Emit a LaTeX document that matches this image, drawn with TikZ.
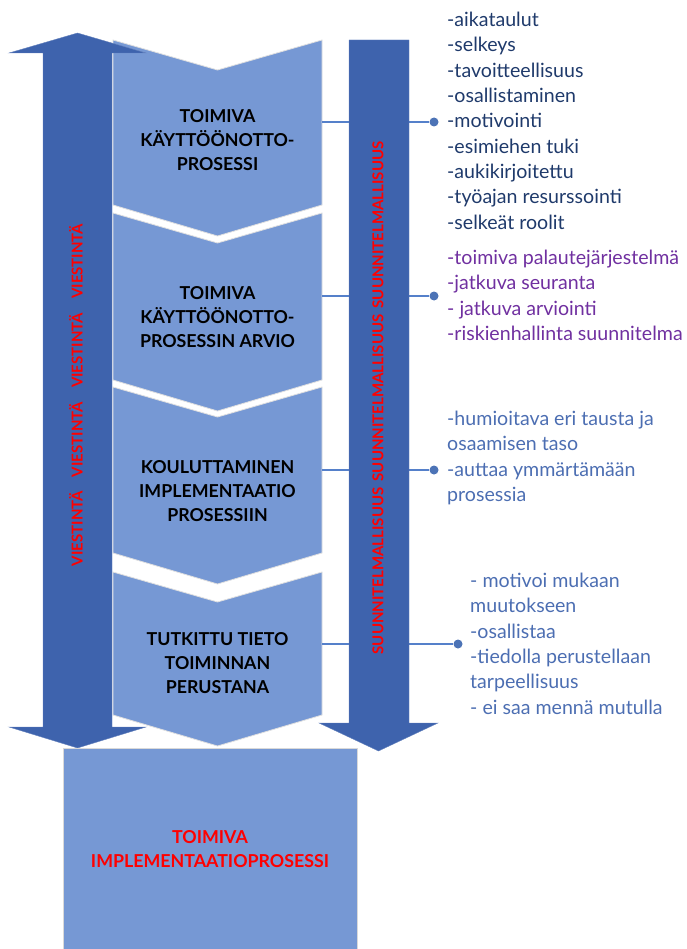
\documentclass[tikz,border=0pt]{standalone}
\usepackage{fontspec}
\setmainfont{Lato}
\usepackage{xcolor}
\definecolor{arrowblue}{HTML}{3E63AD}
\definecolor{chevblue}{HTML}{7698D4}
\definecolor{linkblue}{HTML}{5580CA}
\definecolor{navy}{HTML}{1F3A6B}
\definecolor{violet}{HTML}{7030A0}
\definecolor{softblue}{HTML}{4C6EB2}
\tikzset{
  chev/.style={fill=chevblue, draw=black!12, line width=0.8pt},
  bigarrow/.style={fill=arrowblue, draw=arrowblue!80!white, line width=0.4pt},
  head/.style={font=\fontsize{17.8}{24.2}\selectfont\bfseries, align=center, text=black},
  vtext/.style={font=\fontsize{15}{17}\selectfont\bfseries, text=red, rotate=90},
  items/.style={font=\fontsize{19.6}{25.3}\selectfont, align=left, anchor=north west, inner sep=0pt},
  link/.style={draw=linkblue, line width=1.3pt},
  dot/.style={circle, fill=linkblue!90!black, inner sep=0pt, minimum size=9pt}
}
\newcommand{\chevpath}[2]{(113,-#1) -- (217.5,-#1-30) -- (322,-#1) -- (322,-#2) -- (217.5,-#2-31) -- (113,-#2) -- cycle}
\begin{document}
\begin{tikzpicture}[x=1pt,y=1pt]
\useasboundingbox (0,0) rectangle (687,-949);
% chevrons
\draw[chev] \chevpath{40}{205};
\draw[chev] \chevpath{213}{380};
\draw[chev] \chevpath{387}{553};
\draw[chev] \chevpath{572}{715};
\node[head] (c1) at (217.5,-140) {TOIMIVA\\KÄYTTÖÖNOTTO-\\PROSESSI};
\node[head] (c2) at (217.5,-317) {TOIMIVA\\KÄYTTÖÖNOTTO-\\PROSESSIN ARVIO};
\node[head] (c3) at (217.5,-491) {KOULUTTAMINEN\\IMPLEMENTAATIO\\PROSESSIIN};
\node[head] (c4) at (217.5,-663) {TUTKITTU TIETO\\TOIMINNAN\\PERUSTANA};
% connectors
\coordinate (cr) at (322,0);
\node[dot] (d1) at (434,-122) {};
\node[dot] (d2) at (434,-296) {};
\node[dot] (d3) at (434,-470) {};
\node[dot] (d4) at (458,-644) {};
\draw[link] (d1 -| cr) -- (d1);
\draw[link] (d2 -| cr) -- (d2);
\draw[link] (d3 -| cr) -- (d3);
\draw[link] (d4 -| cr) -- (d4);
% arrows
\draw[bigarrow] (77.5,-33) -- (146,-53) -- (112,-53) -- (112,-727) -- (146,-727) -- (77.5,-748)
  -- (9,-727) -- (43,-727) -- (43,-53) -- (9,-53) -- cycle;
\draw[bigarrow] (349,-40) -- (409,-40) -- (409,-723) -- (438,-723) -- (378.5,-751) -- (319,-723)
  -- (349,-723) -- cycle;
\node[vtext] (v1) at (76,-395) {VIESTINTÄ\hspace{14pt}VIESTINTÄ\hspace{14pt}VIESTINTÄ\hspace{14pt}VIESTINTÄ};
\node[vtext] (v2) at (378,-398) {SUUNNITELMALLISUUS\hspace{6pt}SUUNNITELMALLISUUS\hspace{6pt}SUUNNITELMALLISUUS};
% goal
\draw[fill=chevblue, draw=black!15, line width=0.8pt] (63,-748) rectangle (357,-955);
\node[head, text=red] (goal) at (210,-849) {TOIMIVA\\IMPLEMENTAATIOPROSESSI};
% lists
\node[items, text=navy] (l1) at (447,-12) {-aikataulut\\-selkeys\\-tavoitteellisuus\\-osallistaminen\\-motivointi\\-esimiehen tuki\\-aukikirjoitettu\\-työajan resurssointi\\-selkeät roolit};
\node[items, text=violet] (l2) at (447,-250) {-toimiva palautejärjestelmä\\-jatkuva seuranta\\- jatkuva arviointi\\-riskienhallinta suunnitelma};
\node[items, text=softblue] (l3) at (447,-411) {-humioitava eri tausta ja\\osaamisen taso\\-auttaa ymmärtämään\\prosessia};
\node[items, text=softblue] (l4) at (470,-573) {- motivoi mukaan\\muutokseen\\-osallistaa\\-tiedolla perustellaan\\tarpeellisuus\\- ei saa mennä mutulla};
\end{tikzpicture}
\end{document}
